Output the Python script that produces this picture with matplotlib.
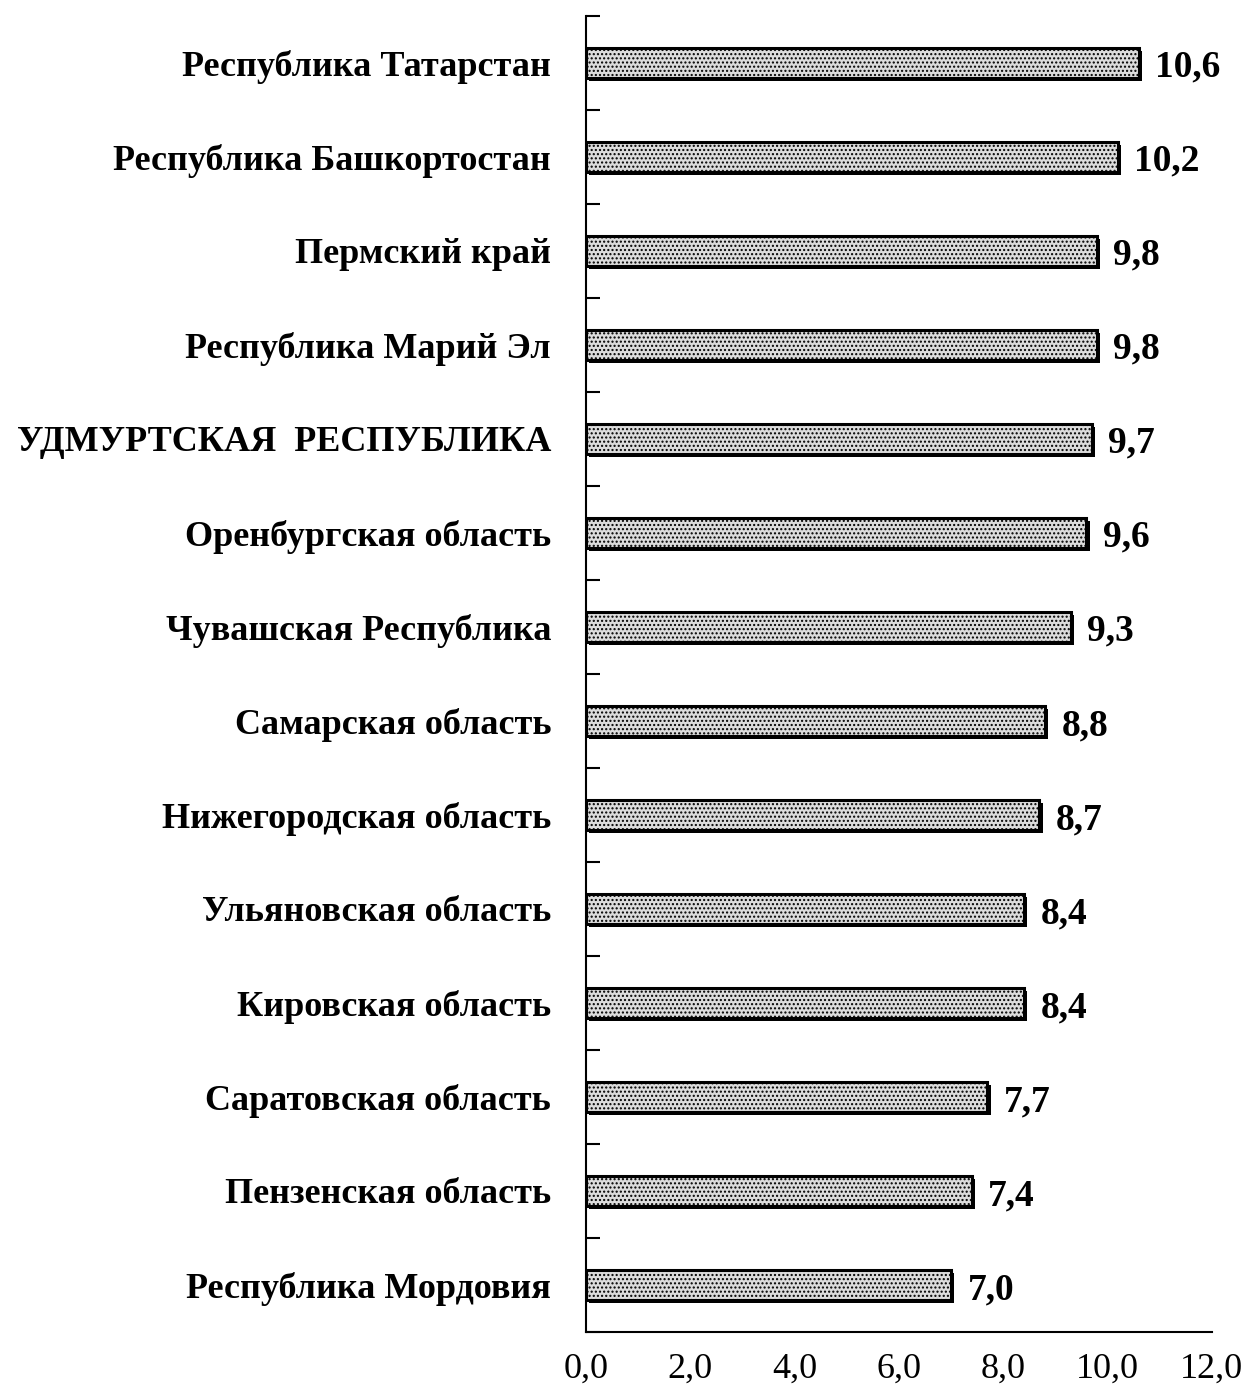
import matplotlib.pyplot as plt
import matplotlib.patheffects as pe
import numpy as np

# Регионы сверху вниз
regions = ["Республика Татарстан", "Республика Башкортостан", "Пермский край",
           "Республика Марий Эл", "УДМУРТСКАЯ  РЕСПУБЛИКА", "Оренбургская область",
           "Чувашская Республика", "Самарская область", "Нижегородская область",
           "Ульяновская область", "Кировская область", "Саратовская область",
           "Пензенская область", "Республика Мордовия"]
values = [10.6, 10.2, 9.8, 9.8, 9.7, 9.6, 9.3, 8.8, 8.7, 8.4, 8.4, 7.7, 7.4, 7.0]
xticks = [0, 2, 4, 6, 8, 10, 12]

plt.rcParams['font.family'] = ['Liberation Serif', 'DejaVu Serif']

fig = plt.figure(figsize=(12.49, 13.93), dpi=100)
ax = fig.add_axes([0.469, 0.0438, 0.501, 0.945])

y = np.arange(len(regions))
bars = ax.barh(y, values, height=0.32, color='#dcdcdc', edgecolor='black',
               linewidth=2.2, hatch='....')
for b in bars:
    b.set_path_effects([pe.SimplePatchShadow(offset=(2.5, -2.5), shadow_rgbFace='black', alpha=1),
                        pe.Normal()])

for yi, v in zip(y, values):
    ax.text(v + 0.32, yi + 0.05, f"{v:.1f}".replace('.', ','), va='center', ha='left',
            fontsize=27, fontweight='bold')

ax.set_ylim(len(regions) - 0.5, -0.5)
ax.set_xlim(0, 12)
ax.set_yticks(y)
ax.set_yticklabels(regions, fontsize=26, fontweight='bold')
ax.set_yticks(np.arange(-0.5, len(regions), 1), minor=True)
ax.tick_params(axis='y', which='major', length=0, pad=25)
ax.tick_params(axis='y', which='minor', direction='in', length=10, width=1.5)
ax.set_xticks(xticks)
ax.set_xticklabels([f"{t:.1f}".replace('.', ',') for t in xticks], fontsize=26)
ax.tick_params(axis='x', length=0, pad=15)

ax.spines['top'].set_visible(False)
ax.spines['right'].set_visible(False)
ax.spines['left'].set_linewidth(1.5)
ax.spines['bottom'].set_linewidth(1.5)

plt.savefig('out.png', dpi=100)
